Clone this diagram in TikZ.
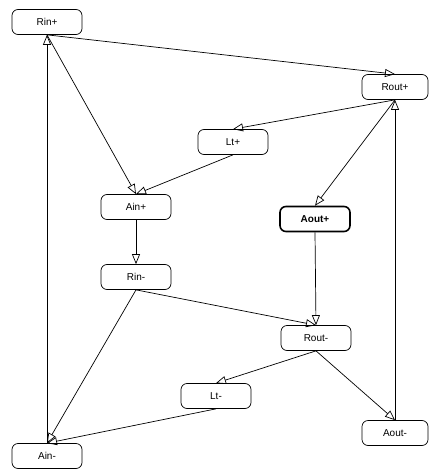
\documentclass[tikz,border=0pt]{standalone}
\usepackage{fontspec}
\setmainfont{Liberation Sans}
\usetikzlibrary{arrows.meta}
\begin{document}
\begin{tikzpicture}[x=1pt,y=-1pt,
  box/.style={draw,rounded corners=6pt,minimum width=70pt,minimum height=25pt,inner sep=0pt,font=\fontsize{10}{12}\selectfont,line width=0.7pt},
  narrow/.style={box,minimum width=66pt},
  bold/.style={box,line width=1.6pt,font=\fontsize{10}{12}\selectfont\bfseries},
  arr/.style={-{Triangle[open,length=10pt,width=8pt]},line width=0.7pt}]
\useasboundingbox (0,0) rectangle (429,470);
\node[box] (rinp) at (47,22) {Rin+};
\node[narrow] (routp) at (395,87) {Rout+};
\node[box] (ltp) at (233,142) {Lt+};
\node[box] (ainp) at (136,207) {Ain+};
\node[bold] (aoutp) at (315,219) {Aout+};
\node[box] (rinm) at (136,277) {Rin-};
\node[box] (routm) at (316,338) {Rout-};
\node[box] (ltm) at (216,396) {Lt-};
\node[box] (ainm) at (47,456) {Ain-};
\node[narrow] (aoutm) at (395,433) {Aout-};
\draw[arr] (rinp.south) -- (routp.north);
\draw[arr] (rinp.south) -- (ainp.north);
\draw[arr] (ainm.north) -- (rinp.south);
\draw[arr] (routp.south) -- (ltp.north);
\draw[arr] (ltp.south) -- (ainp.north);
\draw[arr] (routp.south) -- (aoutp.north);
\draw[arr] (aoutm.north) -- (routp.south);
\draw[arr] (ainp.south) -- (rinm.north);
\draw[arr] (aoutp.south) -- (routm.north);
\draw[arr] (rinm.south) -- (routm.north);
\draw[arr] (rinm.south) -- (ainm.north);
\draw[arr] (routm.south) -- (ltm.north);
\draw[arr] (routm.south) -- (aoutm.north);
\draw[arr] (ltm.south) -- (ainm.north);
\end{tikzpicture}
\end{document}
